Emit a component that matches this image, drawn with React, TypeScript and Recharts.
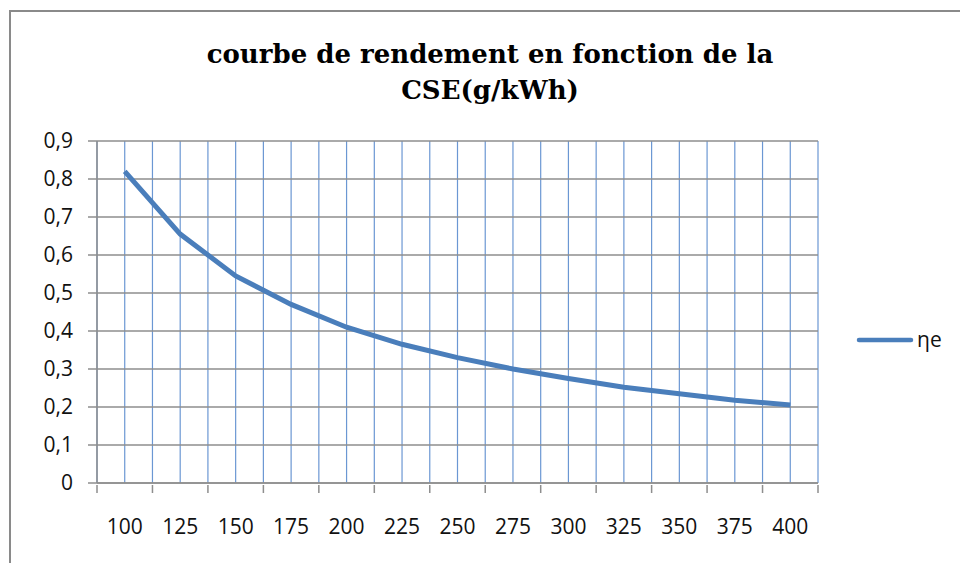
import { CartesianGrid, Line, LineChart, XAxis, YAxis } from 'recharts';

const cse = [100, 125, 150, 175, 200, 225, 250, 275, 300, 325, 350, 375, 400];
const rendement = [0.82, 0.655, 0.545, 0.47, 0.41, 0.365, 0.33, 0.3, 0.275, 0.252, 0.235, 0.218, 0.205];
const seriesName = 'ηe';
const titleLines = ['courbe de rendement en fonction de la', 'CSE(g/kWh)'];
const yTicks = [0, 0.1, 0.2, 0.3, 0.4, 0.5, 0.6, 0.7, 0.8, 0.9];
// category boundaries + category centres (every 12.5)
const xTicks = [
  87.5, 100, 112.5, 125, 137.5, 150, 162.5, 175, 187.5, 200, 212.5, 225, 237.5, 250,
  262.5, 275, 287.5, 300, 312.5, 325, 337.5, 350, 362.5, 375, 387.5, 400, 412.5,
];

const data = cse.map((c, i) => ({ cse: c, eta: rendement[i] }));

const LINE_BLUE = '#4a7ebb';
const GRID_BLUE = '#6b97d3';
const GRID_GRAY = '#8e8e8e';
const FONT = '"Open Sans", sans-serif';
const TITLE_FONT = '"DejaVu Serif", serif';

function XTick(props: any) {
  const { x, y, payload } = props;
  const v = payload.value;
  if (v % 25 === 0) {
    return (
      <text x={x} y={y} dy={41} textAnchor="middle" fontFamily={FONT} fontSize={21} fill="#111">
        {v}
      </text>
    );
  }
  return <line x1={x} x2={x} y1={y - 8} y2={y} stroke={GRID_GRAY} strokeWidth={1.5} />;
}

export default function App() {
  return (
    <div style={{ position: 'absolute', left: 0, top: 0, width: 960, height: 563, overflow: 'hidden', background: '#fff' }}>
      <div style={{ position: 'absolute', left: 9, top: 10, width: 1000, height: 600, border: '2px solid #8a8a8a' }} />
      <div style={{ position: 'absolute', left: 0, top: 0 }}>
        <LineChart width={960} height={563} data={data} margin={{ top: 141, right: 142, bottom: 0, left: 0 }}>
          <CartesianGrid horizontal={false} vertical={true} stroke={GRID_BLUE} strokeWidth={1.2} />
          <CartesianGrid horizontal={true} vertical={false} stroke={GRID_GRAY} strokeWidth={1.3} />
          <XAxis
            dataKey="cse"
            type="number"
            domain={[87.5, 412.5]}
            ticks={xTicks}
            interval={0}
            height={80}
            tickSize={8}
            tickLine={false}
            axisLine={{ stroke: GRID_GRAY, strokeWidth: 1.5 }}
            tick={<XTick />}
          />
          <YAxis
            type="number"
            domain={[0, 0.9]}
            ticks={yTicks}
            interval={0}
            width={97}
            tickSize={9}
            tickMargin={15}
            axisLine={{ stroke: GRID_GRAY, strokeWidth: 1.5 }}
            tickLine={{ stroke: GRID_GRAY, strokeWidth: 1.5 }}
            tick={{ fontFamily: FONT, fontSize: 21, fill: '#111' }}
            tickFormatter={(v: number) => (v === 0 ? '0' : v.toFixed(1).replace('.', ','))}
          />
          <Line
            type="linear"
            dataKey="eta"
            name={seriesName}
            stroke={LINE_BLUE}
            strokeWidth={5}
            dot={false}
            isAnimationActive={false}
          />
        </LineChart>
      </div>
      <svg width={960} height={563} style={{ position: 'absolute', left: 0, top: 0, pointerEvents: 'none' }}>
        <text x={490} y={63} textAnchor="middle" fontFamily={TITLE_FONT} fontWeight="bold" fontSize={26} fill="#000">
          {titleLines[0]}
        </text>
        <text x={490} y={99} textAnchor="middle" fontFamily={TITLE_FONT} fontWeight="bold" fontSize={26} fill="#000">
          {titleLines[1]}
        </text>
        <line x1={859} x2={911} y1={340} y2={340} stroke={LINE_BLUE} strokeWidth={4.5} strokeLinecap="round" />
        <text x={917} y={347} fontFamily={FONT} fontSize={21} fill="#111">
          {seriesName}
        </text>
      </svg>
    </div>
  );
}
